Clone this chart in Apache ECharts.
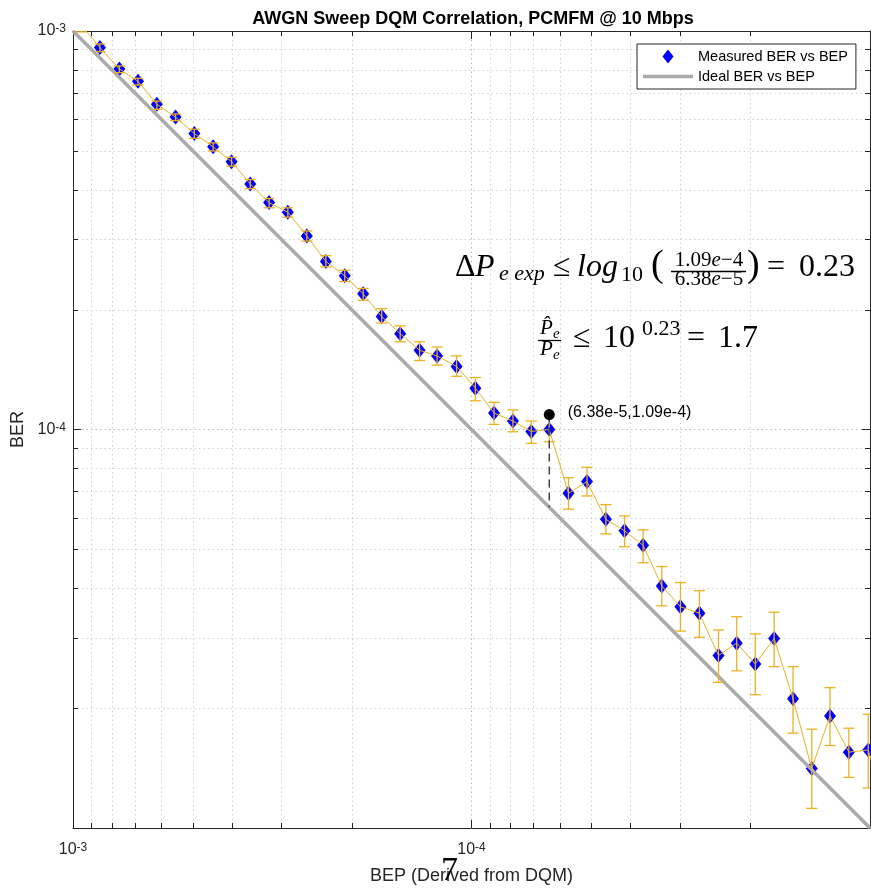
<!DOCTYPE html>
<html>
<head>
<meta charset="utf-8">
<title>AWGN Sweep DQM Correlation</title>
<script src="https://cdn.jsdelivr.net/npm/echarts@6/dist/echarts.min.js"></script>
<style>
  html, body { margin: 0; padding: 0; background: #fff; }
  #main { width: 871px; height: 888px; }
</style>
</head>
<body>
<div id="main"></div>
<script>
// measured points (first and last one sit just outside the axes)
var bep = [9.55e-4, 8.56e-4, 7.65e-4, 6.87e-4, 6.16e-4, 5.53e-4, 4.96e-4, 4.45e-4, 4.00e-4, 3.59e-4,
           3.22e-4, 2.89e-4, 2.59e-4, 2.32e-4, 2.08e-4, 1.87e-4, 1.68e-4, 1.51e-4, 1.35e-4, 1.22e-4,
           1.09e-4, 9.78e-5, 8.78e-5, 7.87e-5, 7.08e-5, 6.38e-5, 5.71e-5, 5.13e-5, 4.60e-5, 4.13e-5,
           3.71e-5, 3.33e-5, 2.99e-5, 2.68e-5, 2.40e-5, 2.16e-5, 1.94e-5, 1.74e-5, 1.56e-5, 1.40e-5,
           1.26e-5, 1.13e-5, 1.01e-5, 9.1e-6];
var ber = [1.035e-3, 9.09e-4, 8.03e-4, 7.48e-4, 6.55e-4, 6.08e-4, 5.53e-4, 5.12e-4, 4.70e-4, 4.13e-4,
           3.71e-4, 3.51e-4, 3.06e-4, 2.64e-4, 2.43e-4, 2.19e-4, 1.92e-4, 1.74e-4, 1.58e-4, 1.53e-4,
           1.44e-4, 1.27e-4, 1.10e-4, 1.05e-4, 9.89e-5, 1.00e-4, 6.92e-5, 7.40e-5, 5.95e-5, 5.57e-5,
           5.12e-5, 4.05e-5, 3.59e-5, 3.46e-5, 2.71e-5, 2.91e-5, 2.58e-5, 2.99e-5, 2.11e-5, 1.41e-5,
           1.91e-5, 1.55e-5, 1.57e-5, 1.1e-5];
var berLow = [9.95e-4, 8.87e-4, 7.86e-4, 7.32e-4, 6.36e-4, 5.96e-4, 5.38e-4, 5.00e-4, 4.58e-4, 4.02e-4,
              3.60e-4, 3.41e-4, 2.97e-4, 2.56e-4, 2.35e-4, 2.11e-4, 1.85e-4, 1.66e-4, 1.49e-4, 1.45e-4,
              1.36e-4, 1.18e-4, 1.03e-4, 9.87e-5, 9.23e-5, 9.32e-5, 6.31e-5, 6.81e-5, 5.47e-5, 5.08e-5,
              4.63e-5, 3.61e-5, 3.12e-5, 3.01e-5, 2.32e-5, 2.48e-5, 2.16e-5, 2.54e-5, 1.73e-5, 1.12e-5,
              1.61e-5, 1.34e-5, 1.26e-5, 9.0e-6];
var berHigh = [1.07e-3, 9.28e-4, 8.17e-4, 7.61e-4, 6.67e-4, 6.19e-4, 5.67e-4, 5.24e-4, 4.82e-4, 4.24e-4,
               3.80e-4, 3.60e-4, 3.15e-4, 2.73e-4, 2.51e-4, 2.26e-4, 2.01e-4, 1.82e-4, 1.66e-4, 1.61e-4,
               1.53e-4, 1.35e-4, 1.17e-4, 1.12e-4, 1.05e-4, 1.09e-4, 7.57e-5, 8.04e-5, 6.48e-5, 6.07e-5,
               5.60e-5, 4.53e-5, 4.13e-5, 3.94e-5, 3.14e-5, 3.39e-5, 3.07e-5, 3.48e-5, 2.54e-5, 1.77e-5,
               2.25e-5, 1.78e-5, 1.93e-5, 1.3e-5];

// ideal curve: BER = BEP
var idealBep = [1e-3, 1e-5];
var idealBer = [1e-3, 1e-5];

// highlighted point and the ideal value under it
var markBep = 6.38e-5;
var markBer = 1.09e-4;
var markIdeal = 6.38e-5;

// axes
var axisMin = 1e-5, axisMax = 1e-3;
var tickExponents = [-3, -4];          // labelled decades
var decades = [1e-5, 1e-4];
var minorSteps = [2, 3, 4, 5, 6, 7, 8, 9];

var FONT = '"Liberation Sans", Arial, Helvetica, sans-serif';
var SERIF = '"Liberation Serif", "DejaVu Serif", serif';
var AXIS = '#262626';
var ORANGE = '#EDB120';
var GRAY = '#ababab';
var MAJOR_GRID = '#b9b9b9';
var MINOR_GRID = '#d2d2d2';

var minorVals = [];
decades.forEach(function (d) {
  minorSteps.forEach(function (m) { minorVals.push(m * d); });
});

var measured = bep.map(function (x, i) { return [x, ber[i]]; });
var bars = bep.map(function (x, i) { return [x, berLow[i], berHigh[i]]; });
var ideal = idealBep.map(function (x, i) { return [x, idealBer[i]]; });

function expLabel(v) {
  var e = Math.round(Math.log10(v));
  if (tickExponents.indexOf(e) < 0) return '';
  return '{b|10}{s|' + e + '}';
}
var labelRich = {
  b: { fontFamily: FONT, fontSize: 16, lineHeight: 16, padding: [6, 0, 0, 0], verticalAlign: 'bottom', color: AXIS },
  s: { fontFamily: FONT, fontSize: 12, lineHeight: 12, verticalAlign: 'top', color: AXIS }
};

function renderBar(params, api) {
  var x = api.value(0);
  var lo = api.coord([x, api.value(1)]);
  var hi = api.coord([x, api.value(2)]);
  var cx = lo[0], w = 5.5;
  return {
    type: 'group',
    children: [
      { type: 'line', shape: { x1: cx, y1: lo[1], x2: cx, y2: hi[1] }, style: { stroke: ORANGE, lineWidth: 1.3 } },
      { type: 'line', shape: { x1: cx - w, y1: lo[1], x2: cx + w, y2: lo[1] }, style: { stroke: ORANGE, lineWidth: 1.3 } },
      { type: 'line', shape: { x1: cx - w, y1: hi[1], x2: cx + w, y2: hi[1] }, style: { stroke: ORANGE, lineWidth: 1.3 } }
    ]
  };
}

// minor grid lines + minor ticks (2..9 in every decade)
function renderMinorX(params, api) {
  var cs = params.coordSys;
  var x = Math.round(api.coord([api.value(0), 1e-4])[0]) + 0.5;
  var top = cs.y, bottom = cs.y + cs.height;
  return {
    type: 'group',
    children: [
      { type: 'line', shape: { x1: x, y1: top, x2: x, y2: bottom }, style: { stroke: MINOR_GRID, lineWidth: 1, lineDash: [1.5, 3] } },
      { type: 'line', shape: { x1: x, y1: bottom, x2: x, y2: bottom - 5 }, style: { stroke: AXIS, lineWidth: 1 } },
      { type: 'line', shape: { x1: x, y1: top, x2: x, y2: top + 5 }, style: { stroke: AXIS, lineWidth: 1 } }
    ]
  };
}
function renderMinorY(params, api) {
  var cs = params.coordSys;
  var y = Math.round(api.coord([1e-4, api.value(1)])[1]) + 0.5;
  var left = cs.x, right = cs.x + cs.width;
  return {
    type: 'group',
    children: [
      { type: 'line', shape: { x1: left, y1: y, x2: right, y2: y }, style: { stroke: MINOR_GRID, lineWidth: 1, lineDash: [1.5, 3] } },
      { type: 'line', shape: { x1: left, y1: y, x2: left + 5, y2: y }, style: { stroke: AXIS, lineWidth: 1 } },
      { type: 'line', shape: { x1: right, y1: y, x2: right - 5, y2: y }, style: { stroke: AXIS, lineWidth: 1 } }
    ]
  };
}

// serif pieces of the formula annotations
function mt(text, x, base, size, italic, align) {
  return {
    type: 'text', x: x, y: base - 0.3375 * size, z: 20, silent: true,
    style: {
      text: text, fontFamily: SERIF, fontSize: size, fontStyle: italic ? 'italic' : 'normal',
      fill: '#000', align: align || 'left', verticalAlign: 'middle',
      rich: { i: { fontFamily: SERIF, fontSize: size, fontStyle: 'italic', fill: '#000' } }
    }
  };
}
function bar(x1, x2, y) {
  return { type: 'line', z: 20, silent: true, shape: { x1: x1, y1: y, x2: x2, y2: y }, style: { stroke: '#000', lineWidth: 1.3 } };
}

var formula = [
  mt('Δ', 455, 278, 32, false),
  mt('P', 475, 278, 32, true),
  mt('e exp', 499, 282, 22, true),
  mt('≤', 553, 278, 32, false),
  mt('log', 577, 278, 32, true),
  mt('10', 621, 283, 22, false),
  mt('(', 651, 279, 38, false),
  mt('1.09{i|e}−4', 709, 268, 21, false, 'center'),
  bar(671, 746, 271.5),
  mt('6.38{i|e}−5', 709, 287, 21, false, 'center'),
  mt(')', 747, 279, 38, false),
  mt('=', 767, 278, 32, false),
  mt('0.23', 799, 278, 32, false),

  mt('P̂', 540, 336, 21, true),
  mt('e', 553, 339, 15, true),
  bar(538, 561, 340.5),
  mt('P', 540, 357, 21, true),
  mt('e', 553, 360, 15, true),
  mt('≤', 573, 349.5, 32, false),
  mt('10', 603, 349.5, 32, false),
  mt('0.23', 642, 337, 22, false),
  mt('=', 687, 349.5, 32, false),
  mt('1.7', 718, 349.5, 32, false),

  mt('7', 441, 883, 34, false)
];

function logAxis(opt) {
  var base = {
    type: 'log', logBase: 10, min: axisMin, max: axisMax,
    axisLine: { show: true, onZero: false, lineStyle: { color: AXIS, width: 1 } },
    axisTick: { show: true, inside: true, length: 8, lineStyle: { color: AXIS } },
    axisLabel: { show: false },
    splitLine: { show: false }
  };
  for (var k in opt) base[k] = opt[k];
  return base;
}

var chart = echarts.init(document.getElementById('main'));
chart.setOption({
  backgroundColor: '#fff',
  animation: false,
  title: {
    text: 'AWGN Sweep DQM Correlation, PCMFM @ 10 Mbps',
    left: 468, top: 5, textAlign: 'center',
    textStyle: { fontFamily: FONT, fontSize: 18, fontWeight: 'bold', color: '#000' }
  },
  legend: {
    orient: 'vertical', left: 637, top: 44, z: 10,
    padding: [5, 8, 5, 6], itemGap: 5, itemWidth: 50, itemHeight: 16,
    backgroundColor: '#fff', borderColor: AXIS, borderWidth: 1, borderRadius: 0,
    selectedMode: false,
    textStyle: { fontFamily: FONT, fontSize: 14.5, color: '#000' },
    data: [
      { name: 'Measured BER vs BEP', icon: 'path://M0,8L0,8M50,8L50,8M25,1L30.5,8L25,15L19.5,8Z',
        itemStyle: { color: '#0000ff', borderWidth: 0, opacity: 1 } },
      { name: 'Ideal BER vs BEP', icon: 'path://M0,0L50,0L50,3.5L0,3.5Z',
        itemStyle: { color: GRAY, borderWidth: 0, opacity: 1 } }
    ]
  },
  grid: { left: 73, top: 31, right: 1, bottom: 60, containLabel: false, outerBoundsMode: 'none' },
  xAxis: [
    logAxis({
      position: 'bottom', inverse: true,
      name: 'BEP (Derived from DQM)', nameLocation: 'middle', nameGap: 39,
      nameTextStyle: { fontFamily: FONT, fontSize: 18, color: AXIS },
      axisLabel: { show: true, margin: 14, formatter: expLabel, rich: labelRich },
      splitLine: { show: true, lineStyle: { color: MAJOR_GRID, type: [1.5, 3] } }
    }),
    logAxis({ position: 'top', inverse: true })
  ],
  yAxis: [
    logAxis({
      position: 'left',
      name: 'BER', nameLocation: 'middle', nameGap: 46,
      nameTextStyle: { fontFamily: FONT, fontSize: 18, color: AXIS },
      axisLabel: { show: true, margin: 7, formatter: expLabel, rich: labelRich },
      splitLine: { show: true, lineStyle: { color: MAJOR_GRID, type: [1.5, 3] } }
    }),
    logAxis({ position: 'right' })
  ],
  graphic: { elements: formula },
  series: [
    {
      type: 'custom', name: 'minorX', silent: true, z: 1, clip: true,
      renderItem: renderMinorX,
      encode: { x: 0, y: 1 },
      data: minorVals.map(function (v) { return [v, 1e-4]; })
    },
    {
      type: 'custom', name: 'minorY', silent: true, z: 1, clip: true,
      renderItem: renderMinorY,
      encode: { x: 0, y: 1 },
      data: minorVals.map(function (v) { return [1e-4, v]; })
    },
    {
      type: 'scatter', name: 'Measured BER vs BEP', z: 2, clip: true, silent: true,
      symbol: 'diamond', symbolSize: [12, 15],
      itemStyle: { color: '#0000ff', opacity: 1 },
      data: measured
    },
    {
      type: 'line', name: 'Ideal BER vs BEP', z: 3, symbol: 'none', silent: true,
      lineStyle: { color: GRAY, width: 3.5 },
      data: ideal
    },
    {
      type: 'line', name: 'trace', z: 4, symbol: 'none', clip: true, silent: true,
      lineStyle: { color: ORANGE, width: 1 },
      data: measured
    },
    {
      type: 'custom', name: 'errorbars', z: 4, clip: true, silent: true,
      renderItem: renderBar,
      encode: { x: 0, y: [1, 2] },
      data: bars
    },
    {
      type: 'line', name: 'gap', z: 5, symbol: 'none', silent: true,
      lineStyle: { color: '#404040', width: 1.5, type: [8, 5] },
      data: [[markBep, markBer], [markBep, markIdeal]]
    },
    {
      type: 'scatter', name: 'point', z: 6, silent: true,
      symbol: 'circle', symbolSize: 11,
      itemStyle: { color: '#000', opacity: 1 },
      label: {
        show: true, position: 'right', distance: 13, offset: [0, -2],
        fontFamily: FONT, fontSize: 16, color: '#000',
        formatter: function (p) {
          return '(' + p.value[0].toExponential(2) + ',' + p.value[1].toExponential(2) + ')';
        }
      },
      data: [[markBep, markBer]]
    }
  ]
});
</script>
</body>
</html>
